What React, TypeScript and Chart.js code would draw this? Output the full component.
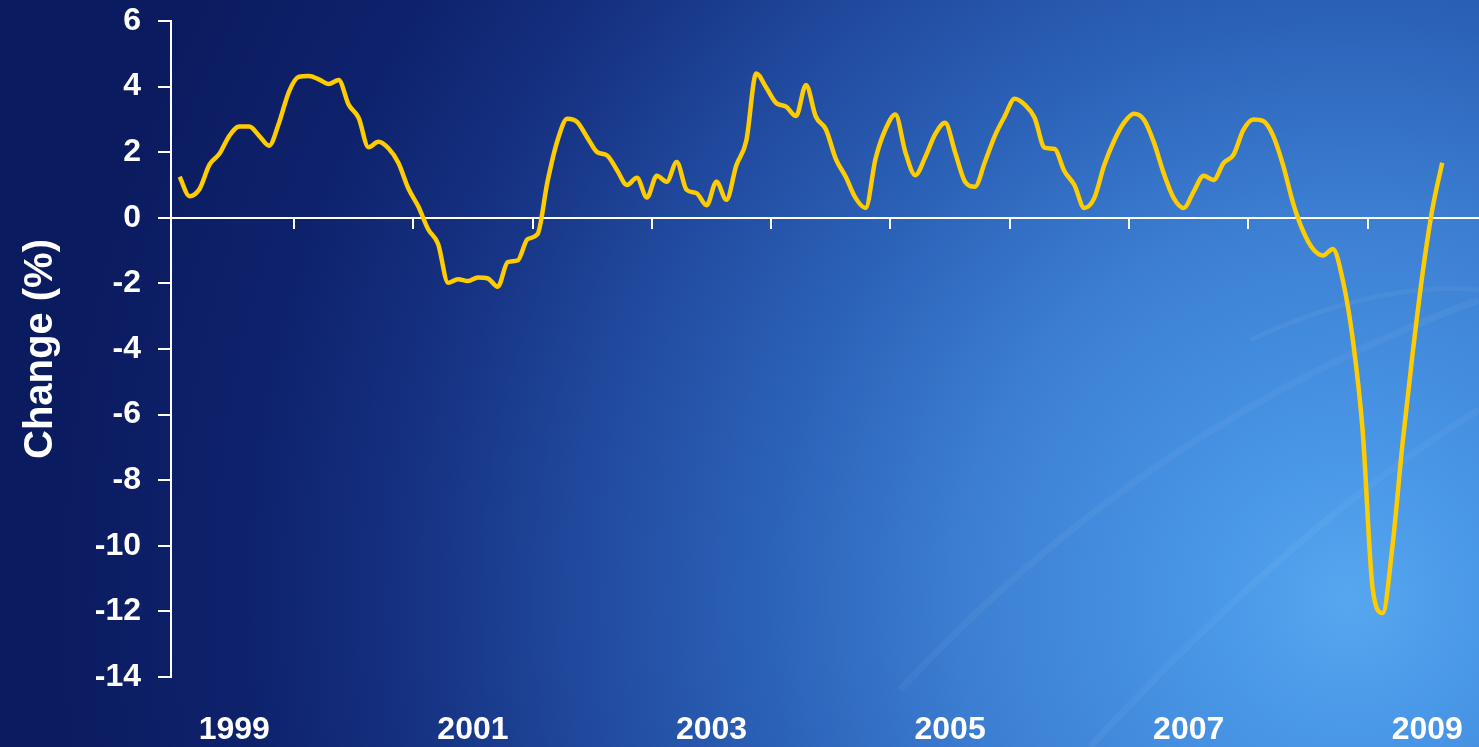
import React, { useEffect, useRef } from 'react';
import { Chart, registerables } from 'chart.js';

Chart.register(...registerables);

// Monthly % change, Jan 1999 .. Aug 2009
const changeValues: number[] = [
  1.25, 0.66, 0.88, 1.62, 1.95, 2.5, 2.78, 2.78, 2.5, 2.2, 2.9, 3.85,
  4.3, 4.32, 4.22, 4.08, 4.2, 3.45, 3.05, 2.15, 2.32, 2.12, 1.68, 0.9,
  0.35, -0.35, -0.8, -1.98, -1.87, -1.93, -1.82, -1.85, -2.1, -1.35, -1.3, -0.65,
  -0.5, 1.1, 2.35, 3.02, 2.92, 2.45, 2.0, 1.9, 1.45, 1.0, 1.22, 0.62,
  1.28, 1.1, 1.7, 0.85, 0.75, 0.38, 1.1, 0.55, 1.6, 2.35, 4.4, 3.97,
  3.5, 3.39, 3.1, 4.05, 3.08, 2.7, 1.8, 1.25, 0.6, 0.3, 1.8, 2.7,
  3.15, 2.0, 1.3, 1.85, 2.55, 2.9, 2.0, 1.1, 0.95, 1.7, 2.5, 3.1,
  3.63, 3.45, 3.05, 2.14, 2.1, 1.42, 1.0, 0.3, 0.6, 1.6, 2.35, 2.9,
  3.17, 2.99, 2.3, 1.35, 0.6, 0.3, 0.8, 1.28, 1.15, 1.67, 1.92, 2.68,
  3.0, 2.95, 2.5, 1.6, 0.45, -0.4, -0.95, -1.15, -0.95, -1.9, -3.7, -6.5,
  -11.3, -12.05, -10.0, -6.9, -4.2, -1.75, 0.25, 1.68,
];

// month index of each year boundary (2000 .. 2009), months counted from Jan 1999
const yearBoundaryMonths: number[] = [12, 24, 36, 48, 60, 72, 84, 96, 108, 120];
// mid-year positions of the labelled years
const yearLabelMonths: number[] = [6, 30, 54, 78, 102, 126];
const yearLabels: string[] = ['1999', '2001', '2003', '2005', '2007', '2009'];
const yTickValues: number[] = [-14, -12, -10, -8, -6, -4, -2, 0, 2, 4, 6];

const FONT = "'Liberation Sans', Arial, Helvetica, sans-serif";
const X_MIN = -0.37;
const X_MAX = 131.2;

const backgroundPlugin = {
  id: 'bgGradient',
  beforeDraw(chart: any) {
    const { ctx, width, height } = chart;
    ctx.save();
    const g = ctx.createRadialGradient(1350, 600, 0, 1350, 600, 1300);
    g.addColorStop(0, '#56a7ef');
    g.addColorStop(0.1, '#4a98e8');
    g.addColorStop(0.29, '#3d80d3');
    g.addColorStop(0.45, '#2b62b8');
    g.addColorStop(0.6, '#20489c');
    g.addColorStop(0.72, '#163283');
    g.addColorStop(0.85, '#0e226c');
    g.addColorStop(1, '#0b1b60');
    ctx.fillStyle = g;
    ctx.fillRect(0, 0, width, height);
    // faint decorative arcs
    ctx.strokeStyle = 'rgba(255,255,255,0.045)';
    ctx.lineWidth = 7;
    ctx.beginPath();
    ctx.moveTo(900, 690);
    ctx.quadraticCurveTo(1150, 420, 1479, 300);
    ctx.stroke();
    ctx.beginPath();
    ctx.moveTo(1090, 747);
    ctx.quadraticCurveTo(1300, 520, 1479, 410);
    ctx.stroke();
    ctx.lineWidth = 5;
    ctx.beginPath();
    ctx.moveTo(1250, 340);
    ctx.quadraticCurveTo(1380, 280, 1479, 290);
    ctx.stroke();
    ctx.restore();
  },
};

export default function App() {
  const canvasRef = useRef<HTMLCanvasElement | null>(null);

  useEffect(() => {
    document.body.style.margin = '0';
    const canvas = canvasRef.current;
    if (!canvas) return;
    const points = changeValues.map((v, i) => ({ x: i + 0.5, y: v }));
    const noSidePad = (s: any) => {
      s.paddingLeft = 0;
      s.paddingRight = 0;
    };
    const chart = new Chart(canvas, {
      type: 'line',
      data: {
        datasets: [
          {
            data: points,
            borderColor: '#FFCC00',
            borderWidth: 4.5,
            pointRadius: 0,
            cubicInterpolationMode: 'monotone',
            fill: false,
            xAxisID: 'x',
            yAxisID: 'y',
          },
        ],
      },
      options: {
        animation: false,
        responsive: true,
        maintainAspectRatio: false,
        layout: { padding: { top: 21, right: 0, bottom: 0, left: 0 } },
        plugins: { legend: { display: false }, tooltip: { enabled: false } },
        scales: {
          x: {
            type: 'linear',
            min: X_MIN,
            max: X_MAX,
            position: { y: 0 } as any,
            afterBuildTicks: (s: any) => {
              s.ticks = yearBoundaryMonths.map((v) => ({ value: v }));
            },
            ticks: { display: false },
            grid: {
              drawOnChartArea: false,
              drawTicks: true,
              tickLength: 10,
              color: '#ffffff',
              lineWidth: 2,
            },
            border: { display: true, color: '#ffffff', width: 2 },
            afterFit: noSidePad,
          },
          xLabels: {
            type: 'linear',
            position: 'bottom',
            min: X_MIN,
            max: X_MAX,
            afterBuildTicks: (s: any) => {
              s.ticks = yearLabelMonths.map((v) => ({ value: v }));
            },
            ticks: {
              color: '#ffffff',
              font: { family: FONT, size: 32, weight: 'bold' },
              padding: 34,
              autoSkip: false,
              maxRotation: 0,
              callback: (_v: any, idx: number) => yearLabels[idx],
            },
            grid: { display: false, drawTicks: false },
            border: { display: false },
            afterFit: (s: any) => {
              s.height = 70;
              s.paddingLeft = 0;
              s.paddingRight = 0;
            },
          },
          y: {
            type: 'linear',
            min: -14,
            max: 6,
            afterBuildTicks: (s: any) => {
              s.ticks = yTickValues.map((v) => ({ value: v }));
            },
            ticks: {
              color: '#ffffff',
              font: { family: FONT, size: 32, weight: 'bold' },
              padding: 17,
            },
            grid: {
              drawOnChartArea: false,
              drawTicks: true,
              tickLength: 13,
              color: '#ffffff',
              lineWidth: 2,
            },
            border: { display: true, color: '#ffffff', width: 2 },
            title: {
              display: true,
              text: 'Change (%)',
              color: '#ffffff',
              font: { family: FONT, size: 40, weight: 'bold' },
              padding: { top: 17, bottom: 0 },
            },
            afterFit: (s: any) => {
              s.width = 171;
              s.paddingTop = 0;
              s.paddingBottom = 0;
            },
          },
        },
      },
      plugins: [backgroundPlugin],
    } as any);
    return () => chart.destroy();
  }, []);

  return (
    <div style={{ position: 'fixed', left: 0, top: 0, width: '1479px', height: '747px' }}>
      <canvas ref={canvasRef} />
    </div>
  );
}
